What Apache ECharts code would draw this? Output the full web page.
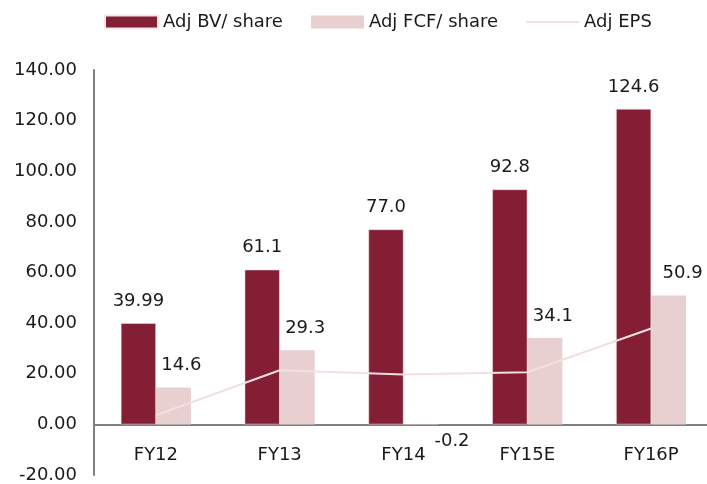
<!DOCTYPE html>
<html>
<head>
<meta charset="utf-8">
<script src="https://cdn.jsdelivr.net/npm/echarts@6/dist/echarts.min.js"></script>
<style>
  html, body { margin: 0; padding: 0; background: #fff; }
  #chart { width: 707px; height: 484px; }
</style>
</head>
<body>
<div id="chart"></div>
<script>
var categories = ['FY12', 'FY13', 'FY14', 'FY15E', 'FY16P'];
var bvShare = [39.99, 61.1, 77.0, 92.8, 124.6];
var bvLabels = ['39.99', '61.1', '77.0', '92.8', '124.6'];
var fcfShare = [14.6, 29.3, -0.2, 34.1, 50.9];
var fcfLabels = ['14.6', '29.3', '-0.2', '34.1', '50.9'];
var adjEps = [3.6, 21.4, 19.7, 20.6, 37.9];

var darkColor = '#841e35';
var lightColor = '#e8cfd0';
var lineColor = '#f2e0e0';
var textColor = '#1a1a1a';
var font = '"DejaVu Sans", sans-serif';

var myChart = echarts.init(document.getElementById('chart'));

// label nudges as in the source picture
var fcfData = fcfShare.map(function (v, i) {
    var item = { value: v };
    if (v < 0) {
        item.label = { position: 'bottom', distance: 7, offset: [31, 0] };
    } else if (i === fcfShare.length - 1) {
        item.label = { offset: [14, 0] };
    }
    return item;
});

myChart.setOption({
    animation: false,
    textStyle: { fontFamily: font },
    legend: {
        top: 8,
        left: 99,
        itemWidth: 53,
        itemHeight: 13,
        itemGap: 28,
        textStyle: { fontSize: 18, color: textColor, fontFamily: font },
        data: [
            { name: 'Adj BV/ share', icon: 'rect' },
            { name: 'Adj FCF/ share', icon: 'rect' },
            { name: 'Adj EPS', icon: 'path://M0,0 L0,0 M0,5.5 L53,5.5 L53,7.5 L0,7.5 Z M53,13 L53,13' }
        ]
    },
    grid: { left: 94, right: -6, top: 70, bottom: 9, outerBoundsMode: 'none' },
    xAxis: {
        type: 'category',
        data: categories,
        axisLine: { onZero: true, lineStyle: { color: '#808080', width: 2 } },
        axisTick: { show: false },
        // labels sit at the grid bottom, pull them up under the zero line
        axisLabel: { fontSize: 18, color: textColor, margin: -29, fontFamily: font }
    },
    yAxis: {
        type: 'value',
        min: -20,
        max: 140,
        interval: 20,
        axisLine: { show: true, lineStyle: { color: '#808080', width: 2 } },
        axisTick: { show: false },
        splitLine: { show: false },
        axisLabel: {
            fontSize: 18,
            color: textColor,
            margin: 17,
            fontFamily: font,
            formatter: function (v) { return v.toFixed(2); }
        }
    },
    series: [
        {
            name: 'Adj BV/ share',
            type: 'bar',
            data: bvShare,
            barWidth: 35,
            barGap: '0%',
            itemStyle: { color: darkColor, borderColor: '#f5e8ea', borderWidth: 0.5 },
            label: {
                show: true,
                position: 'top',
                distance: 13,
                fontSize: 18,
                color: textColor,
                fontFamily: font,
                formatter: function (p) { return bvLabels[p.dataIndex]; }
            }
        },
        {
            name: 'Adj FCF/ share',
            type: 'bar',
            data: fcfData,
            barWidth: 35,
            barGap: '0%',
            itemStyle: { color: lightColor },
            label: {
                show: true,
                position: 'top',
                distance: 13,
                offset: [8, 0],
                fontSize: 18,
                color: textColor,
                fontFamily: font,
                formatter: function (p) { return fcfLabels[p.dataIndex]; }
            }
        },
        {
            name: 'Adj EPS',
            type: 'line',
            data: adjEps,
            symbol: 'none',
            lineStyle: { color: lineColor, width: 2 },
            itemStyle: { color: lineColor },
            z: 3
        }
    ]
});
</script>
</body>
</html>
